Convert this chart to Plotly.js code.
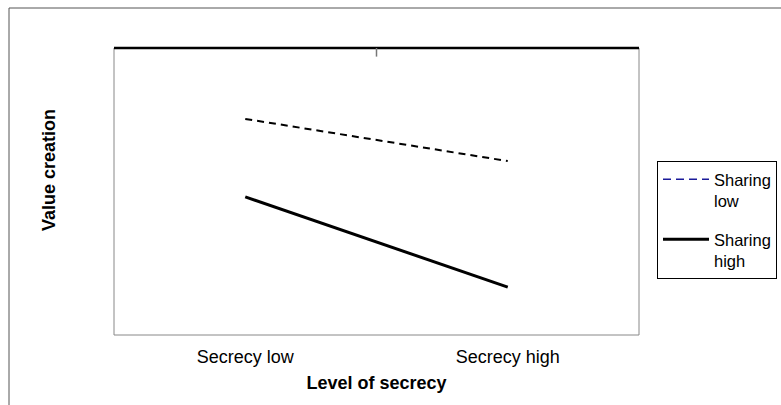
<!DOCTYPE html>
<html>
<head>
<meta charset="utf-8">
<script src="https://cdn.plot.ly/plotly-3.0.1.min.js"></script>
<style>html,body{margin:0;padding:0;background:#fff;}#chart{width:781px;height:405px;}</style>
</head>
<body>
<div id="chart"></div>
<script>
const categories = ["Secrecy low", "Secrecy high"];
const xPositions = [1, 2];
const sharingLow = [7.53, 6.06];
const sharingHigh = [4.81, 1.67];
const seriesNames = ["Sharing<br>low", "Sharing<br>high"];

const traces = [
  {x: xPositions, y: sharingLow, mode: 'lines', line: {color: '#000', width: 2, dash: '7px,5px'}, showlegend: false, hoverinfo: 'skip'},
  {x: xPositions, y: sharingHigh, mode: 'lines', line: {color: '#000', width: 3}, showlegend: false, hoverinfo: 'skip'},
  {x: [null], y: [null], mode: 'lines', name: seriesNames[0], legendgroup: 'a', line: {color: '#1a1a9a', width: 1.5, dash: '8px,5px'}},
  {x: [null], y: [null], mode: 'lines', name: seriesNames[1], legendgroup: 'b', line: {color: '#000', width: 3}}
];

const layout = {
  width: 781, height: 405,
  margin: {l: 114, r: 142, t: 48, b: 70, autoexpand: false},
  paper_bgcolor: '#fff', plot_bgcolor: '#fff',
  font: {family: 'Liberation Sans, Arial, sans-serif', size: 18, color: '#000'},
  xaxis: {
    range: [0.5, 2.5], tickvals: xPositions, ticktext: categories,
    showgrid: false, zeroline: false, ticks: '', showline: false,
    tickfont: {size: 18}, ticklabelstandoff: 9,
    title: {text: '<b>Level of secrecy</b>', font: {size: 18}, standoff: 10}
  },
  yaxis: {
    range: [0, 10], showticklabels: false, showgrid: false, zeroline: false, ticks: '', showline: false
  },
  annotations: [
    {text: '<b>Value creation</b>', textangle: -90, xref: 'paper', yref: 'paper',
     x: (49 - 114) / 525, y: (335 - 170) / 287, xanchor: 'center', yanchor: 'middle',
     showarrow: false, font: {size: 18}}
  ],
  legend: {
    x: (657 - 114) / 525, xanchor: 'left', y: (335 - 161) / 287, yanchor: 'top',
    bordercolor: '#000', borderwidth: 1, bgcolor: '#fff', valign: 'top',
    font: {size: 16.5}, traceorder: 'grouped', tracegroupgap: 14, itemwidth: 46
  },
  shapes: [
    {type: 'rect', xref: 'paper', yref: 'paper', x0: 0, x1: 1, y0: 0, y1: 1, line: {color: '#888', width: 1}},
    {type: 'line', xref: 'paper', yref: 'paper', x0: 0, x1: 1, y0: 1, y1: 1, line: {color: '#000', width: 2.5}},
    {type: 'line', xref: 'paper', yref: 'paper', x0: 0.5, x1: 0.5, y0: 1, y1: 0.97, line: {color: '#777', width: 1.5}},
    {type: 'rect', xref: 'paper', yref: 'paper', x0: -105 / 525, x1: 1.5, y0: -0.5, y1: (335 - 8) / 287, line: {color: '#555', width: 1}, layer: 'below'}
  ]
};

Plotly.newPlot('chart', traces, layout, {displayModeBar: false, staticPlot: true});
</script>
</body>
</html>
